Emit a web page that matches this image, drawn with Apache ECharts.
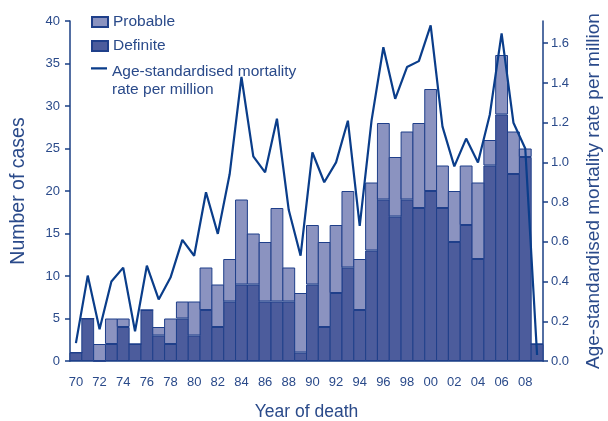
<!DOCTYPE html>
<html><head><meta charset="utf-8">
<script src="https://cdn.jsdelivr.net/npm/echarts@6/dist/echarts.min.js"></script>
<style>html,body{margin:0;padding:0;background:#fff}#c{width:608px;height:421px}</style>
</head><body><div id="c"></div>
<script>
var years = ['70','71','72','73','74','75','76','77','78','79','80','81','82','83','84','85','86','87','88','89','90','91','92','93','94','95','96','97','98','99','00','01','02','03','04','05','06','07','08','09'];
var definite = [1,5,0,2,4,2,6,3,2,5,3,6,4,7,9,9,7,7,7,1,9,4,8,11,6,13,19,17,19,18,20,18,14,16,12,23,29,22,24,2];
var totals =   [1,5,2,5,5,2,6,4,5,7,7,11,9,12,19,15,14,18,11,8,16,14,16,20,12,21,28,24,27,28,32,23,20,23,21,26,36,27,25,2];
var probable = totals.map(function(t,i){return t-definite[i];});
var rate = [0.09,0.43,0.16,0.40,0.47,0.15,0.48,0.31,0.42,0.61,0.53,0.85,0.64,0.94,1.43,1.03,0.95,1.22,0.76,0.53,1.05,0.90,1.00,1.21,0.68,1.21,1.58,1.32,1.48,1.51,1.69,1.18,0.98,1.12,1.00,1.24,1.65,1.20,1.07,0.03];
var lineName = 'Age-standardised mortality\nrate per million';

var txt = '#2a4a8a', ax = '#1a3f85';
var gridL = 70, gridR = 65, W = 608;
var bw = (W - gridL - gridR) / years.length + 1;
var chart = echarts.init(document.getElementById('c'));
chart.setOption({
  animation:false,
  textStyle:{fontFamily:'Liberation Sans, Arial, sans-serif'},
  grid:{left:gridL,right:gridR,top:21,bottom:60,containLabel:false,outerBoundsMode:'none'},
  legend:[{
    orient:'vertical', left:86, top:8, itemGap:6, itemWidth:16, itemHeight:10,
    textStyle:{color:txt,fontSize:15.5,lineHeight:18},
    data:[{name:'Probable',icon:'rect'},{name:'Definite',icon:'rect'}]
  },{
    orient:'vertical', left:86, top:58, itemWidth:16, itemHeight:36,
    textStyle:{color:txt,fontSize:15.5,lineHeight:18},
    data:[{name:lineName,icon:'path://M0,0 L0.01,0 M0,4.2 L16,4.2 L16,6.6 L0,6.6 Z M0,36 L0.01,36',itemStyle:{color:'#0a3d8a'}}]
  }],
  xAxis:{
    type:'category', data:years, boundaryGap:true,
    name:'Year of death', nameLocation:'middle', nameGap:42,
    nameTextStyle:{color:txt,fontSize:17.5},
    axisLine:{lineStyle:{color:ax,width:1.5}},
    axisTick:{interval:0,alignWithLabel:false,length:5,lineStyle:{color:ax,width:1.5}},
    axisLabel:{interval:1,color:txt,fontSize:13,margin:15}
  },
  yAxis:[{
    type:'value', min:0, max:40, interval:5,
    name:'Number of cases', nameLocation:'middle', nameGap:41,
    nameTextStyle:{color:txt,fontSize:19.5},
    axisLine:{show:true,lineStyle:{color:ax,width:1.5}},
    axisTick:{show:true,length:5,lineStyle:{color:ax,width:1.5}},
    axisLabel:{color:txt,fontSize:13,margin:10},
    splitLine:{show:false}
  },{
    type:'value', min:0, max:1.712, interval:0.2,
    name:'Age-standardised mortality rate per million', nameLocation:'middle', nameGap:41,
    nameTextStyle:{color:txt,fontSize:19},
    axisLine:{show:true,lineStyle:{color:ax,width:1.5}},
    axisTick:{show:true,length:5,lineStyle:{color:ax,width:1.5}},
    axisLabel:{color:txt,fontSize:13,margin:8,showMaxLabel:false,formatter:function(v){return v.toFixed(1);}},
    splitLine:{show:false}
  }],
  series:[{
    name:'Definite', type:'bar', stack:'a', data:definite, barWidth:bw,
    itemStyle:{color:'#4c5c9c',borderColor:'#1f3f8a',borderWidth:1}
  },{
    name:'Probable', type:'bar', stack:'a', data:probable, barWidth:bw,
    itemStyle:{color:'#8b93c0',borderColor:'#1f3f8a',borderWidth:1}
  },{
    name:lineName, type:'line', yAxisIndex:1, data:rate,
    symbol:'none', lineStyle:{color:'#0a3d8a',width:2.2}, itemStyle:{color:'#0a3d8a'}, z:5
  }]
});
</script></body></html>
